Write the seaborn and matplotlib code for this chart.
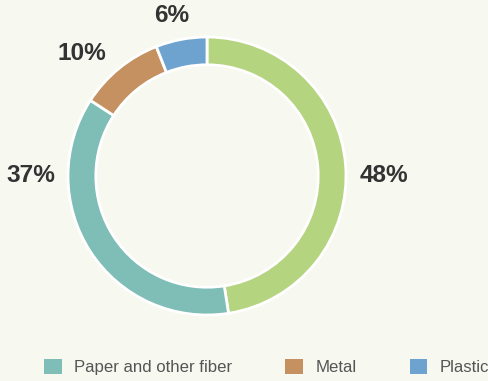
import seaborn as sns
from matplotlib import pyplot as plt
from matplotlib.patches import Patch
import numpy as np

# данные графика
categories = ["Glass", "Paper and other fiber", "Metal", "Plastic"]
shares = [48, 37, 10, 6]
# в легенде видны только эти три пункта
legend_order = ["Paper and other fiber", "Metal", "Plastic"]

colors = {
    "Glass": "#b5d47f",
    "Paper and other fiber": "#7fbdb7",
    "Metal": "#c59161",
    "Plastic": "#6fa3cf",
}
# где стоят подписи процентов: (угол в градусах, расстояние в радиусах)
label_spots = {
    "Glass": (0, 1.275),
    "Paper and other fiber": (180, 1.265),
    "Metal": (135.5, 1.26),
    "Plastic": (102.5, 1.185),
}

BG = "#f7f9f0"

sns.set_theme(style="white")
plt.rcParams["font.family"] = ["Liberation Sans", "DejaVu Sans"]

fig = plt.figure(figsize=(4.88, 3.81), dpi=100, facecolor=BG)
ax = fig.add_axes([68 / 488, 66 / 381, 278 / 488, 278 / 381])
ax.set_facecolor(BG)

ax.pie(
    shares,
    colors=[colors[c] for c in categories],
    startangle=90,
    counterclock=False,
    radius=1,
    wedgeprops=dict(width=0.2, edgecolor="white", linewidth=2),
)
ax.set_xlim(-1, 1)
ax.set_ylim(-1, 1)
ax.set_aspect("equal")
ax.axis("off")

for cat, val in zip(categories, shares):
    angle, dist = label_spots[cat]
    a = np.deg2rad(angle)
    ax.text(dist * np.cos(a), dist * np.sin(a), f"{val}%",
            ha="center", va="center", fontsize=17.6, fontweight="bold",
            color="#333333", clip_on=False)

handles = [Patch(facecolor=colors[c], edgecolor="none") for c in legend_order]
fig.legend(
    handles, legend_order,
    loc="center left", bbox_to_anchor=(44 / 488, 14 / 381),
    ncol=3, frameon=False, fontsize=12.1,
    handlelength=1.05, handleheight=1.05,
    handletextpad=0.75, columnspacing=3.15,
    borderpad=0, borderaxespad=0,
    labelcolor="#555555",
)

plt.savefig("out.png", dpi=100, facecolor=BG)
